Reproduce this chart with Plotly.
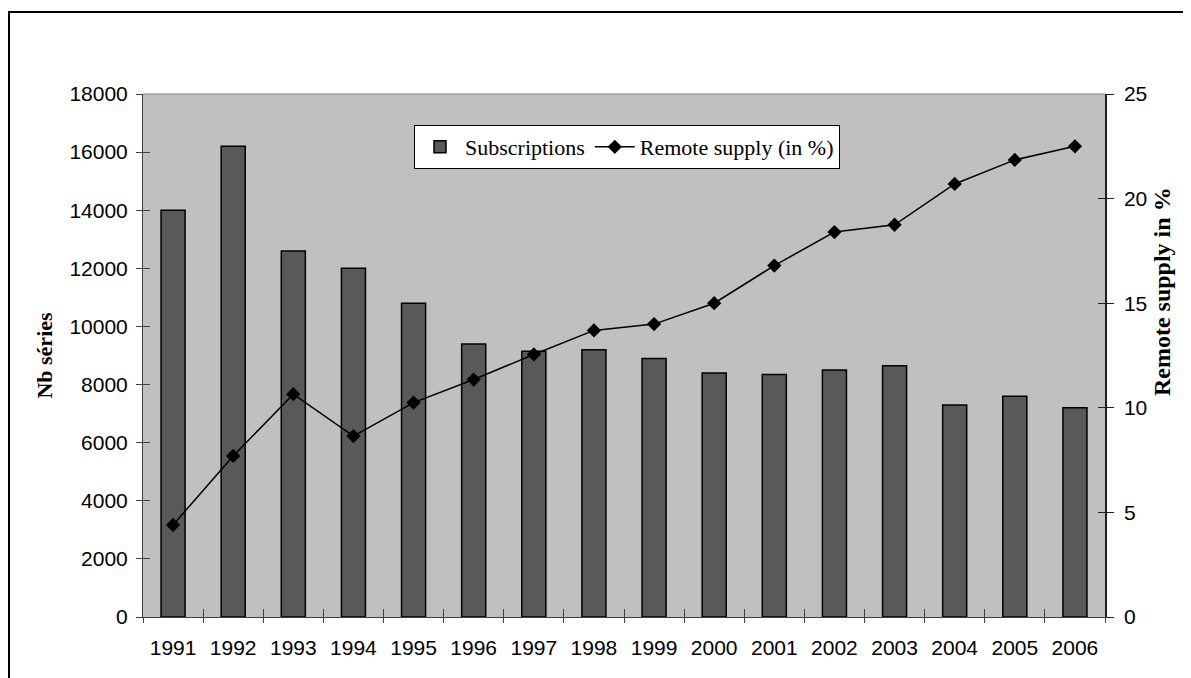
import plotly.graph_objects as go

years = ["1991", "1992", "1993", "1994", "1995", "1996", "1997", "1998",
         "1999", "2000", "2001", "2002", "2003", "2004", "2005", "2006"]
subscriptions = [14000, 16200, 12600, 12000, 10800, 9400, 9150, 9200,
                 8900, 8400, 8350, 8500, 8650, 7300, 7600, 7200]
remote_pct = [4.4, 7.7, 10.65, 8.65, 10.25, 11.35, 12.55, 13.7,
              14.0, 15.0, 16.8, 18.4, 18.75, 20.7, 21.85, 22.5]

left_ticks = list(range(0, 18001, 2000))
right_ticks = list(range(0, 26, 5))
n = len(years)

fig = go.Figure()
fig.add_trace(go.Bar(
    x=years, y=subscriptions, name="Subscriptions",
    marker=dict(color="#595959", line=dict(color="#000000", width=1.5)),
    xaxis="x", yaxis="y",
))
fig.add_trace(go.Scatter(
    x=years, y=remote_pct, name="Remote supply (in %)", mode="lines+markers",
    line=dict(color="#000000", width=1.5),
    marker=dict(symbol="diamond", size=11, color="#000000"),
    xaxis="x", yaxis="y2",
))
# invisible helper traces so the inner-tick overlay axes are drawn
fig.add_trace(go.Scatter(x=list(range(n)), y=subscriptions, mode="markers",
                         marker=dict(opacity=0), showlegend=False, hoverinfo="skip",
                         xaxis="x2", yaxis="y3"))
fig.add_trace(go.Scatter(x=list(range(n)), y=remote_pct, mode="markers",
                         marker=dict(opacity=0), showlegend=False, hoverinfo="skip",
                         xaxis="x2", yaxis="y4"))

tick_font = dict(family="Liberation Sans, Arial", size=21, color="#000000")
title_font = dict(family="Liberation Serif, Times New Roman", size=22, color="#000000")

fig.update_layout(
    width=1183, height=670,
    margin=dict(l=135, r=86, t=86, b=61, autoexpand=False),
    paper_bgcolor="#ffffff", plot_bgcolor="#C0C0C0",
    bargap=0.6,
    showlegend=True,
    legend=dict(
        orientation="h", x=0.2817, y=0.9407, xanchor="left", yanchor="top",
        bgcolor="#ffffff", bordercolor="#000000", borderwidth=1,
        font=dict(family="Liberation Serif, Times New Roman", size=22, color="#000000"),
        itemwidth=40, tracegroupgap=0,
    ),
    xaxis=dict(
        type="category", range=[-0.5, n - 0.5], tickson="boundaries",
        ticks="outside", ticklen=5,
        tickcolor="#404040", tickwidth=1, showgrid=False, zeroline=False,
        showline=True, linecolor="#404040", linewidth=1, automargin=False,
        tickfont=tick_font, ticklabelstandoff=12,
    ),
    xaxis2=dict(
        overlaying="x", side="bottom", range=[-0.5, n - 0.5],
        tickvals=[i - 0.5 for i in range(n + 1)], ticks="inside", ticklen=8,
        tickcolor="#404040", tickwidth=1, showticklabels=False, showgrid=False,
        zeroline=False, showline=False, automargin=False,
    ),
    yaxis=dict(
        range=[0, 18000], tickvals=left_ticks, tickformat="d", ticks="outside",
        ticklen=6, tickcolor="#404040", tickwidth=1, showgrid=False,
        zeroline=False, showline=True, linecolor="#404040", linewidth=1,
        tickfont=tick_font, ticklabelstandoff=4, automargin=False,
        title=dict(text="<b>Nb séries</b>", font=title_font, standoff=10),
    ),
    yaxis3=dict(
        overlaying="y", side="left", range=[0, 18000], tickvals=left_ticks,
        ticks="inside", ticklen=7, tickcolor="#404040", tickwidth=1,
        showticklabels=False, showgrid=False, zeroline=False, showline=False,
        automargin=False,
    ),
    yaxis2=dict(
        overlaying="y", side="right", range=[0, 25], tickvals=right_ticks,
        ticks="outside", ticklen=7, tickcolor="#202020", tickwidth=1,
        showgrid=False, zeroline=False, showline=True, linecolor="#202020",
        linewidth=1.5, tickfont=tick_font, ticklabelstandoff=6, automargin=False,
    ),
    yaxis4=dict(
        overlaying="y", side="right", range=[0, 25], tickvals=right_ticks,
        ticks="inside", ticklen=7, tickcolor="#202020", tickwidth=1,
        showticklabels=False, showgrid=False, zeroline=False, showline=False,
        automargin=False,
    ),
)

# right axis title (placed off-centre, as in the original)
fig.add_annotation(text="<b>Remote supply in %</b>", xref="paper", yref="paper",
                   x=1.0593, y=0.6214, xanchor="center", yanchor="middle",
                   textangle=-90, showarrow=False,
                   font=dict(family="Liberation Serif, Times New Roman", size=24,
                             color="#000000"))

# top edge of plot area
fig.add_shape(type="line", xref="paper", yref="paper", x0=0, x1=1, y0=1, y1=1,
              line=dict(color="#808080", width=1))
# outer chart frame
fig.add_shape(type="rect", xref="paper", yref="paper",
              x0=-0.1393, x1=1.095, y0=-0.14, y1=1.1568,
              line=dict(color="#000000", width=2), fillcolor="rgba(0,0,0,0)",
              layer="above")

fig.write_html("out.html")
